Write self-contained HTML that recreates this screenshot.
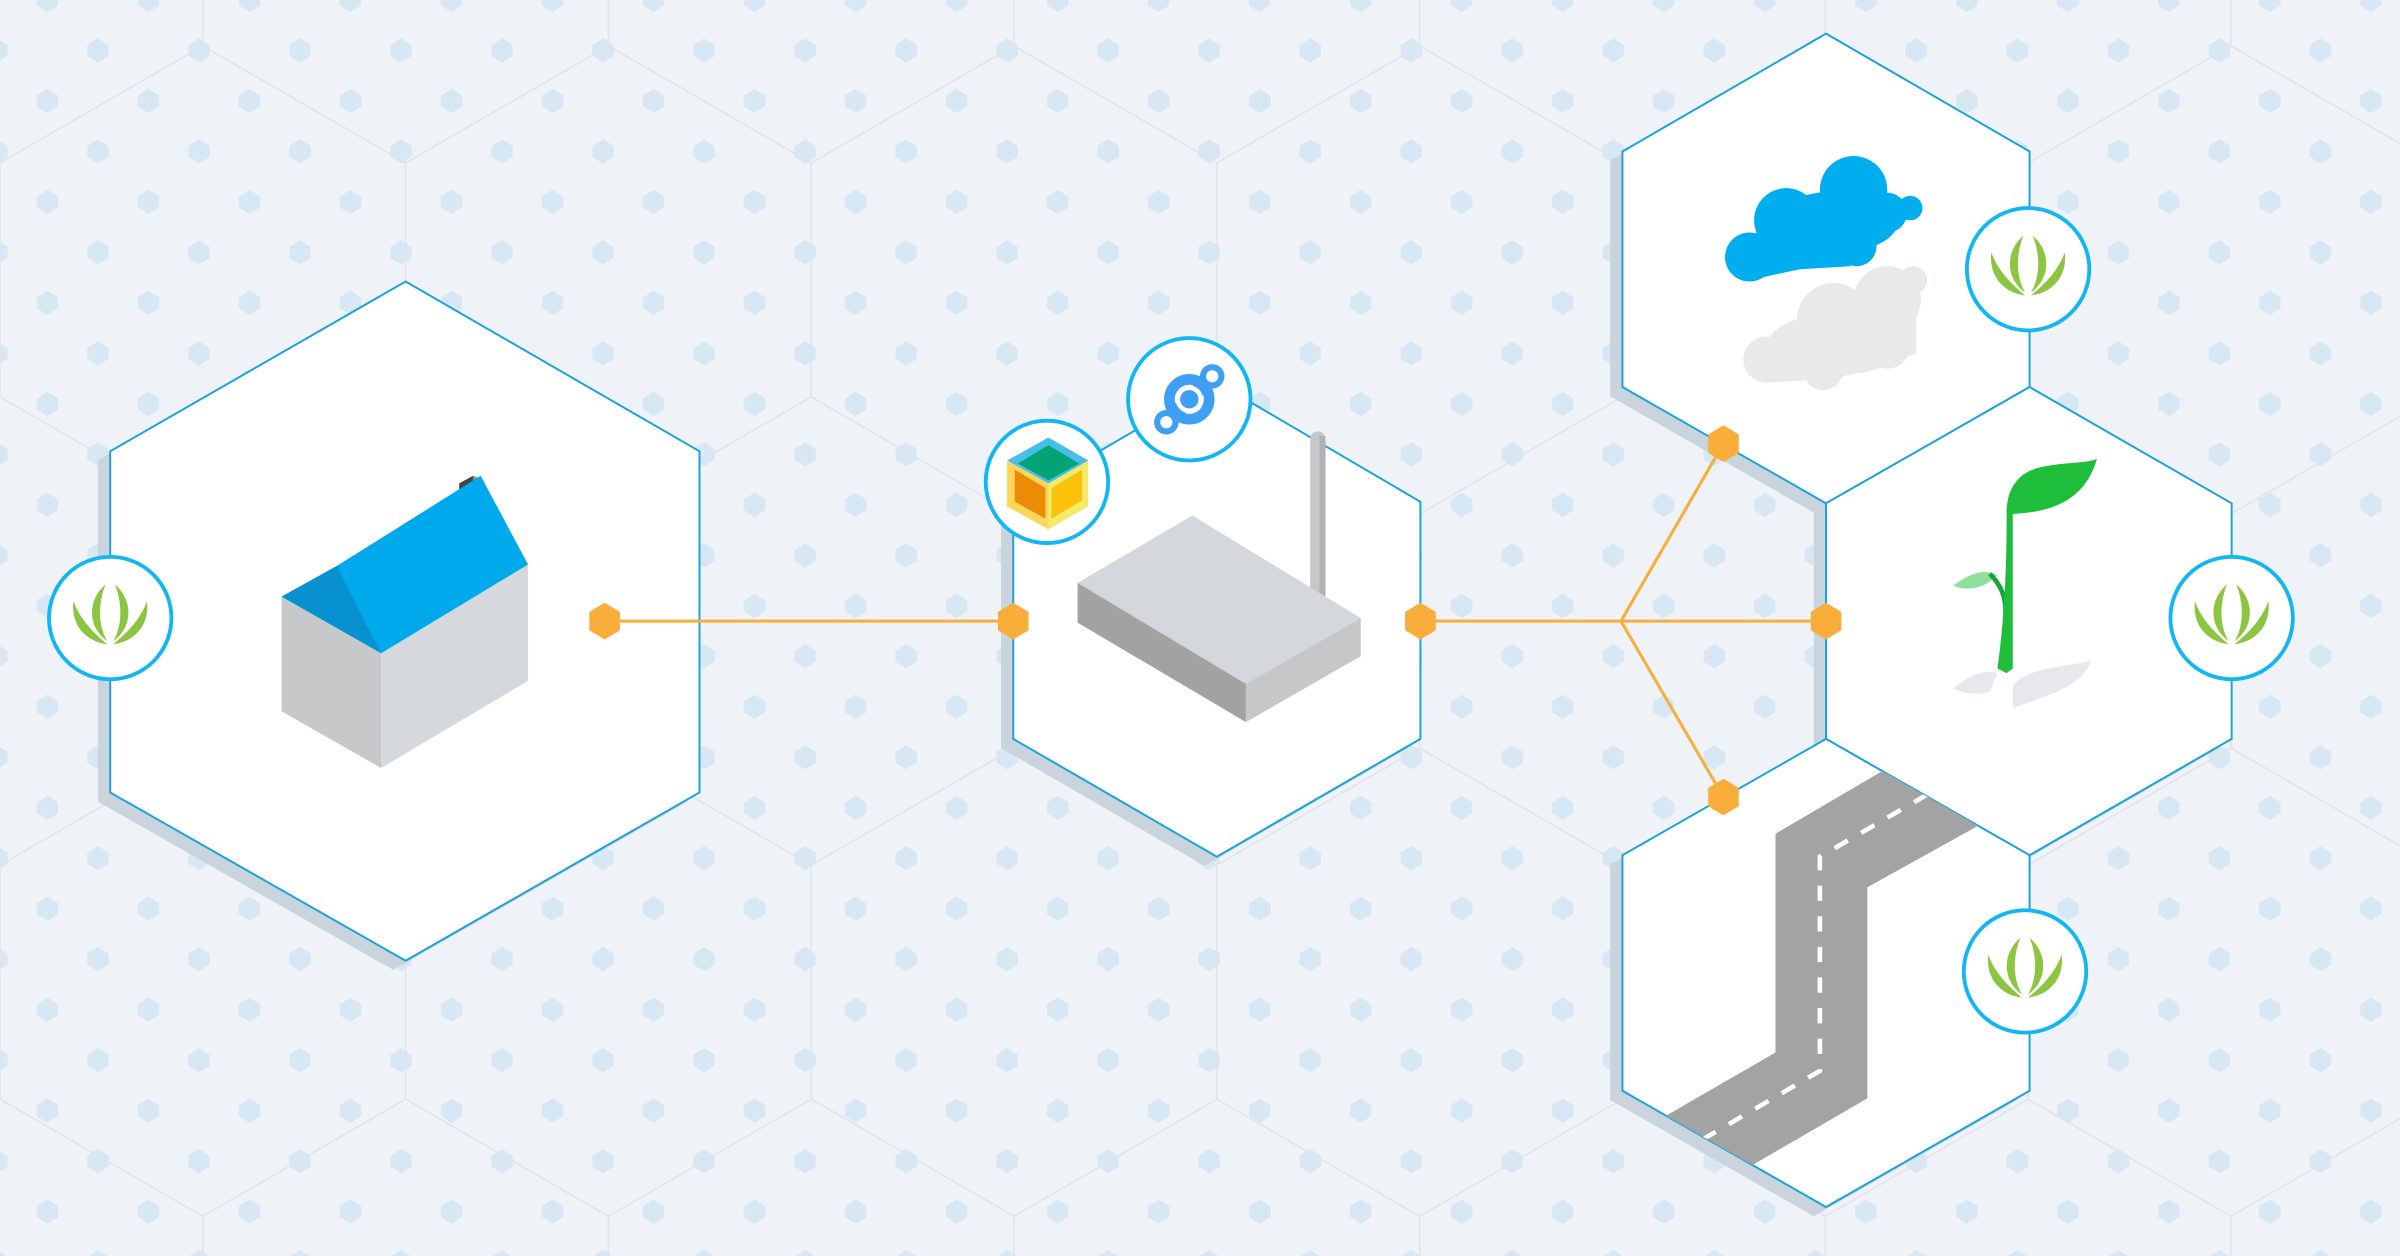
<!DOCTYPE html>
<html><head><meta charset="utf-8"><style>html,body{margin:0;padding:0;background:#eff3f8;overflow:hidden}svg{display:block}</style></head>
<body>
<svg width="2400" height="1256" viewBox="0 0 1568 821" preserveAspectRatio="none" xmlns="http://www.w3.org/2000/svg">
<defs>
<pattern id="dots" x="47" y="16" width="66" height="66" patternUnits="userSpaceOnUse">
<polygon points="17,9 24,13.5 24,20.5 17,25 10,20.5 10,13.5" fill="#d3e7f3" opacity="0.85"/>
<polygon points="50,42 57,46.5 57,53.5 50,58 43,53.5 43,46.5" fill="#d3e7f3" opacity="0.85"/>
</pattern>
<pattern id="grid" x="0" y="0" width="265" height="459" patternUnits="userSpaceOnUse">
<path d="M132.5,30 L265,106.5 L265,259.5 L132.5,336 L0,259.5 L0,106.5 Z M132.5,336 L132.5,459 M132.5,0 L132.5,30" fill="none" stroke="#dfe4e9" stroke-width="1"/>
</pattern>
<g id="grass">
<path d="M-24,-11 C-26,6 -14,16 -2,17 C-12,9 -20,0 -24,-11Z" fill="#8cc540"/>
<path d="M-3,-22 C-15,-12 -15,6 -2,15 C-8,5 -8,-10 -3,-22Z" fill="#8cc540"/>
<path d="M24,-11 C26,6 14,16 2,17 C12,9 20,0 24,-11Z" fill="#8cc540"/>
<path d="M3,-22 C15,-12 15,6 2,15 C8,5 8,-10 3,-22Z" fill="#8cc540"/>
</g>
<g id="onode"><polygon points="0,-12 10,-6 10,6 0,12 -10,6 -10,-6" fill="#f9ad3a"/></g>
<clipPath id="h5"><polygon points="1193,483 1326,559 1326,713 1193,789 1060,713 1060,559"/></clipPath>
</defs>
<rect width="1568" height="821" fill="#eff3f8"/>
<rect width="1568" height="821" fill="url(#dots)"/>
<rect width="1568" height="821" fill="url(#grid)"/>

<g fill="#c9d4dc">
<polygon points="257,190 449,301 449,524 257,634 64,524 64,301"/>
<polygon points="787,256 920,334 920,489 787,566 654,489 654,334"/>
<polygon points="1185,28 1318,105 1318,259 1185,335 1052,259 1052,105"/>
<polygon points="1318,259 1450,335 1450,489 1318,565 1185,489 1185,335"/>
<polygon points="1185,489 1318,565 1318,719 1185,795 1052,719 1052,565"/>
</g>
<g fill="#fff" stroke="#1aa3dc" stroke-width="1.3">
<polygon points="265,184 457,295 457,518 265,628 72,518 72,295"/>
<polygon points="795,250 928,328 928,483 795,560 662,483 662,328"/>
<polygon points="1193,22 1326,99 1326,253 1193,329 1060,253 1060,99"/>
<polygon points="1326,253 1458,329 1458,483 1326,559 1193,483 1193,329"/>
<polygon points="1193,483 1326,559 1326,713 1193,789 1060,713 1060,559"/>
</g>

<polygon points="184,390 249,427 249,502 184,465" fill="#c7c8ca"/>
<polygon points="249,427 345,369 345,445 249,502" fill="#d5d8dc"/>
<polygon points="300,316 309,311 309,336 306,343 300,330" fill="#444"/>
<polygon points="309,311 316,314 316,340 306,343 309,336" fill="#8a8a8a"/>
<polygon points="184,390 249,427 345,369 314,311 220,370" fill="#00a9ec"/>
<polygon points="184,390 220,370 249,427" fill="#0891d0"/>

<rect x="856" y="282" width="10" height="115" rx="5" fill="#c6c7c9"/>
<rect x="862" y="285" width="4" height="112" fill="#b0b1b3"/>
<polygon points="704,381 779,337 889,404 814,447" fill="#d4d7db"/>
<polygon points="704,381 814,447 814,472 704,407" fill="#a2a2a2"/>
<polygon points="814,447 889,404 889,429 814,472" fill="#c6c7c9"/>

<g fill="#e8e9eb">
<circle cx="1154" cy="235" r="15"/><circle cx="1198" cy="209" r="24"/><circle cx="1233" cy="196" r="22"/><circle cx="1250" cy="183" r="9"/><circle cx="1191" cy="242" r="13"/><circle cx="1233" cy="226" r="15"/>
<polygon points="1141,233 1176,207 1252,196 1252,231 1198,248 1154,250"/>
<ellipse cx="1200" cy="225" rx="45" ry="20"/>
</g>
<g fill="#00aeef">
<circle cx="1143" cy="168" r="16"/><circle cx="1167" cy="144" r="21"/><circle cx="1211" cy="124" r="22"/><circle cx="1233" cy="139" r="13"/><circle cx="1248" cy="136" r="8"/><circle cx="1193" cy="152" r="22"/><circle cx="1213" cy="161" r="13"/>
<polygon points="1143,183 1176,176 1209,174 1215,150 1150,150 1130,168"/>
<ellipse cx="1200" cy="145" rx="40" ry="20"/>
</g>

<path d="M1315,463 C1335,455 1360,450 1366,432 C1350,436 1325,436 1315,448Z" fill="#e6e8eb"/>
<path d="M1276,450 C1285,443 1295,437 1305,440 L1300,452 C1290,455 1282,453 1276,450Z" fill="#e6e8eb"/>
<path d="M1276,383 C1285,376 1295,371 1305,376 C1297,384 1287,387 1276,383Z" fill="#8fe09c"/>
<path d="M1300,375 C1310,385 1311,395 1310,405" stroke="#17a535" stroke-width="3" fill="none"/>
<path d="M1311,333 L1315,333 L1315,437 L1311,440 L1305,437 C1310,400 1311,370 1311,333Z" fill="#1ebe3a"/>
<path d="M1311,335 C1311,320 1318,308 1335,305 C1350,302 1362,303 1370,300 C1364,320 1350,335 1313,336Z" fill="#1ebe3a"/>

<g clip-path="url(#h5)">
<polygon points="1070,740 1160,688 1160,545 1240,498 1310,530 1220,580 1220,718 1120,776" fill="#a3a3a3"/>
<path d="M1095,755 L1189,700 L1189,560 L1265,516" stroke="#fff" stroke-width="3" stroke-dasharray="10,10" fill="none"/>
</g>

<g stroke="#f9ad3a" stroke-width="2" fill="none">
<line x1="395" y1="406" x2="662" y2="406"/>
<line x1="928" y1="406" x2="1193" y2="406"/>
<line x1="1059" y1="406" x2="1126" y2="290"/>
<line x1="1059" y1="406" x2="1126" y2="521"/>
</g>
<use href="#onode" x="395" y="406"/><use href="#onode" x="662" y="406"/><use href="#onode" x="928" y="406"/><use href="#onode" x="1193" y="406"/><use href="#onode" x="1126" y="290"/><use href="#onode" x="1126" y="521"/>

<g fill="#fff" stroke="#12b6f2" stroke-width="2.5">
<circle cx="72" cy="404" r="40"/><circle cx="1325" cy="176" r="40"/><circle cx="1458" cy="404" r="40"/><circle cx="1323" cy="635" r="40"/><circle cx="684" cy="315" r="40"/><circle cx="777" cy="261" r="40"/>
</g>
<use href="#grass" x="72" y="404"/><use href="#grass" x="1325" y="176"/><use href="#grass" x="1458" y="404"/><use href="#grass" x="1323" y="635"/>

<polygon points="685,286 711,301 711,331 685,346 658,331 658,301" fill="#f3ea6a"/>
<polygon points="658,301 685,316 685,346 658,331" fill="#fdd55a"/>
<polygon points="685,286 711,301 685,316 658,301" fill="#48bfeb"/>
<polygon points="685,291 705,303 685,314 665,303" fill="#03a474"/>
<polygon points="663,307 683,319 683,339 663,328" fill="#eb8b06"/>
<polygon points="687,319 707,307 707,327 687,339" fill="#fbc10c"/>

<g stroke="#3e9ff5" fill="#3e9ff5">
<line x1="762" y1="276" x2="792" y2="246" stroke-width="9"/>
<circle cx="777" cy="261" r="13" fill="none" stroke-width="7"/>
<circle cx="792" cy="246" r="6" fill="#fff" stroke-width="4"/>
<circle cx="762" cy="276" r="6" fill="#fff" stroke-width="4"/>
</g>
<circle cx="777" cy="261" r="9" fill="#fff"/>
<circle cx="777" cy="261" r="6" fill="#3e9ff5"/>
</svg>
</body></html>
